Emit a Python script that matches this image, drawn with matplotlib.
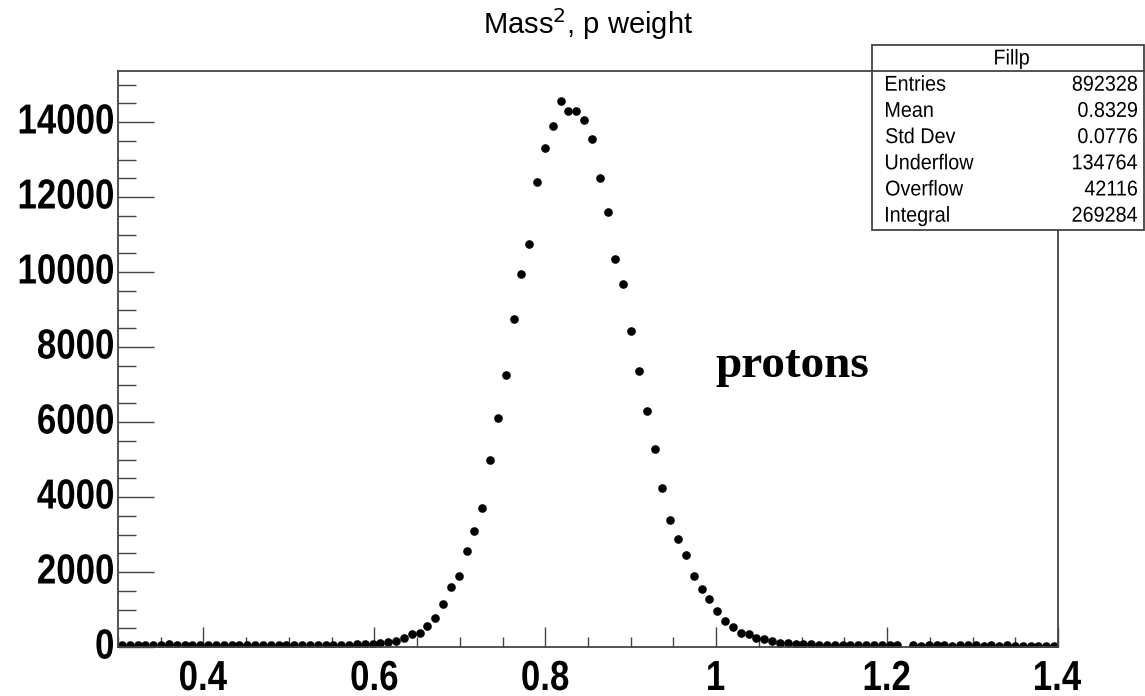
import numpy as np
import matplotlib
matplotlib.use("Agg")
import matplotlib.pyplot as plt
from matplotlib.ticker import MultipleLocator
from matplotlib.patches import Rectangle, PathPatch
from matplotlib.lines import Line2D
from matplotlib.textpath import TextPath
from matplotlib.font_manager import FontProperties
from matplotlib.transforms import Affine2D

# histogram: 120 bins between 0.3 and 1.4
x_min, x_max = 0.3, 1.4
n_bins = 120

counts = [
    # 0.30 - 0.60
    60, 55, 60, 65, 55, 60, 75, 60, 55, 60, 55, 50, 55, 60, 55, 50, 60,
    55, 50, 55, 60, 55, 50, 55, 60, 55, 60, 55, 60, 65, 70, 75, 80,
    # rising edge
    110, 130, 150, 230, 340, 380, 560, 770, 1150, 1600, 1900,
    2550, 3100, 3700, 5000, 6100, 7250, 8750,
    # peak
    9950, 10750, 12400, 13300, 13900, 14550, 14300, 14300, 14050, 13550,
    12500, 11600, 10350,
    # falling edge
    9680, 8440, 7360, 6290, 5270, 4230, 3390, 2880, 2450, 1900,
    1560, 1280, 950, 690, 545, 370, 345, 240, 210, 165, 120, 100, 85,
    # tail
    75, 70, 65, 60, 55, 55, 50, 50, 55, 45, 50, 45, 50, 0, 45, 40, 45,
    50, 45, 40, 45, 60, 45, 40, 45, 40, 45, 40, 40, 35, 40, 35, 40,
]

title = "Mass$^{2}$, p weight"
x_ticks = [0.4, 0.6, 0.8, 1.0, 1.2, 1.4]
x_tick_labels = ["0.4", "0.6", "0.8", "1", "1.2", "1.4"]
y_ticks = [0, 2000, 4000, 6000, 8000, 10000, 12000, 14000]
stat_names = ["Entries", "Mean", "Std Dev", "Underflow", "Overflow", "Integral"]
stat_values = ["892328", "0.8329", "0.0776", "134764", "42116", "269284"]

W, H = 1145, 696
fig = plt.figure(figsize=(W / 100, H / 100), dpi=100)
ax = fig.add_axes([118 / W, 1 - 647 / H, (1058 - 118) / W, (647 - 71) / H])

edges = np.linspace(x_min, x_max, n_bins + 1)
centers = 0.5 * (edges[:-1] + edges[1:])
vals = np.array(counts, dtype=float)
shown = vals > 0  # empty bins get no marker
ax.plot(centers[shown], vals[shown], "o", color="black", ms=6.2, mew=0)

ax.set_xlim(x_min, x_max)
ax.set_ylim(0, 15360)

frame_col = "#444444"
for side in ["left", "bottom", "right", "top"]:
    ax.spines[side].set_color(frame_col)
    ax.spines[side].set_linewidth(1.3)

ax.set_xticks(x_ticks)
ax.set_yticks(y_ticks)
ax.xaxis.set_minor_locator(MultipleLocator(0.05))
ax.yaxis.set_minor_locator(MultipleLocator(500))
ax.tick_params(axis="both", which="both", direction="in", colors=frame_col,
               top=False, right=False, labelbottom=False, labelleft=False)
ax.tick_params(axis="x", which="major", length=14.5, width=1.0)
ax.tick_params(axis="x", which="minor", length=7, width=1.0)
ax.tick_params(axis="y", which="major", length=26, width=1.0)
ax.tick_params(axis="y", which="minor", length=13, width=1.0)

# narrow text: glyph outlines squeezed horizontally, placed in pixels
px = Affine2D().scale(1 / W, 1 / H) + fig.transFigure


def narrow_text(s, x, y_base, size, sx, ha, prop, z=3):
    tp = TextPath((0, 0), s, size=size, prop=prop)
    ext = tp.get_extents()
    if ha == "right":
        dx = -ext.x1 * sx
    elif ha == "center":
        dx = -0.5 * (ext.x0 + ext.x1) * sx
    else:
        dx = -ext.x0 * sx
    tr = Affine2D().scale(sx, 1).translate(x + dx, y_base) + px
    fig.add_artist(PathPatch(tp, transform=tr, facecolor="black", lw=0,
                             zorder=z))


bold = FontProperties(family="Liberation Sans", weight="bold")
plain = FontProperties(family="Liberation Sans")

fig.canvas.draw()
for xv, lab in zip(x_ticks, x_tick_labels):
    xd, yd = ax.transData.transform((xv, 0))
    narrow_text(lab, xd, yd - 43, 42, 0.83, "center", bold)
for yv in y_ticks:
    xd, yd = ax.transData.transform((x_min, yv))
    narrow_text(str(yv), xd - 5, yd - 11.5, 42, 0.83, "right", bold)

fig.text(588 / W, 1 - 24 / H, title, ha="center", va="center",
         family="Liberation Sans", size=21)

ax.text(715 / W, 1 - 377 / H, "protons", transform=fig.transFigure,
        family="Liberation Serif", weight="bold", size=34,
        ha="left", va="baseline")

# stats box
bx0, by0, bx1, by1 = 872, 45, 1144, 230
fig.add_artist(Rectangle((bx0 / W, 1 - by1 / H), (bx1 - bx0) / W,
                         (by1 - by0) / H, transform=fig.transFigure,
                         facecolor="white", edgecolor=frame_col, lw=1.3,
                         zorder=5))
fig.add_artist(Line2D([bx0 / W, bx1 / W], [1 - 71 / H, 1 - 71 / H],
                      transform=fig.transFigure, color=frame_col, lw=1.3,
                      zorder=6))
narrow_text("Fillp", 1012, H - 64.5, 21.5, 0.92, "center", plain, z=7)
for k, (name, val) in enumerate(zip(stat_names, stat_values)):
    yb = H - (90.7 + k * 26.2)
    narrow_text(name, 886, yb, 21.5, 0.92, "left", plain, z=7)
    narrow_text(val, 1137, yb, 21.5, 0.92, "right", plain, z=7)

fig.savefig("out.png", dpi=100)
